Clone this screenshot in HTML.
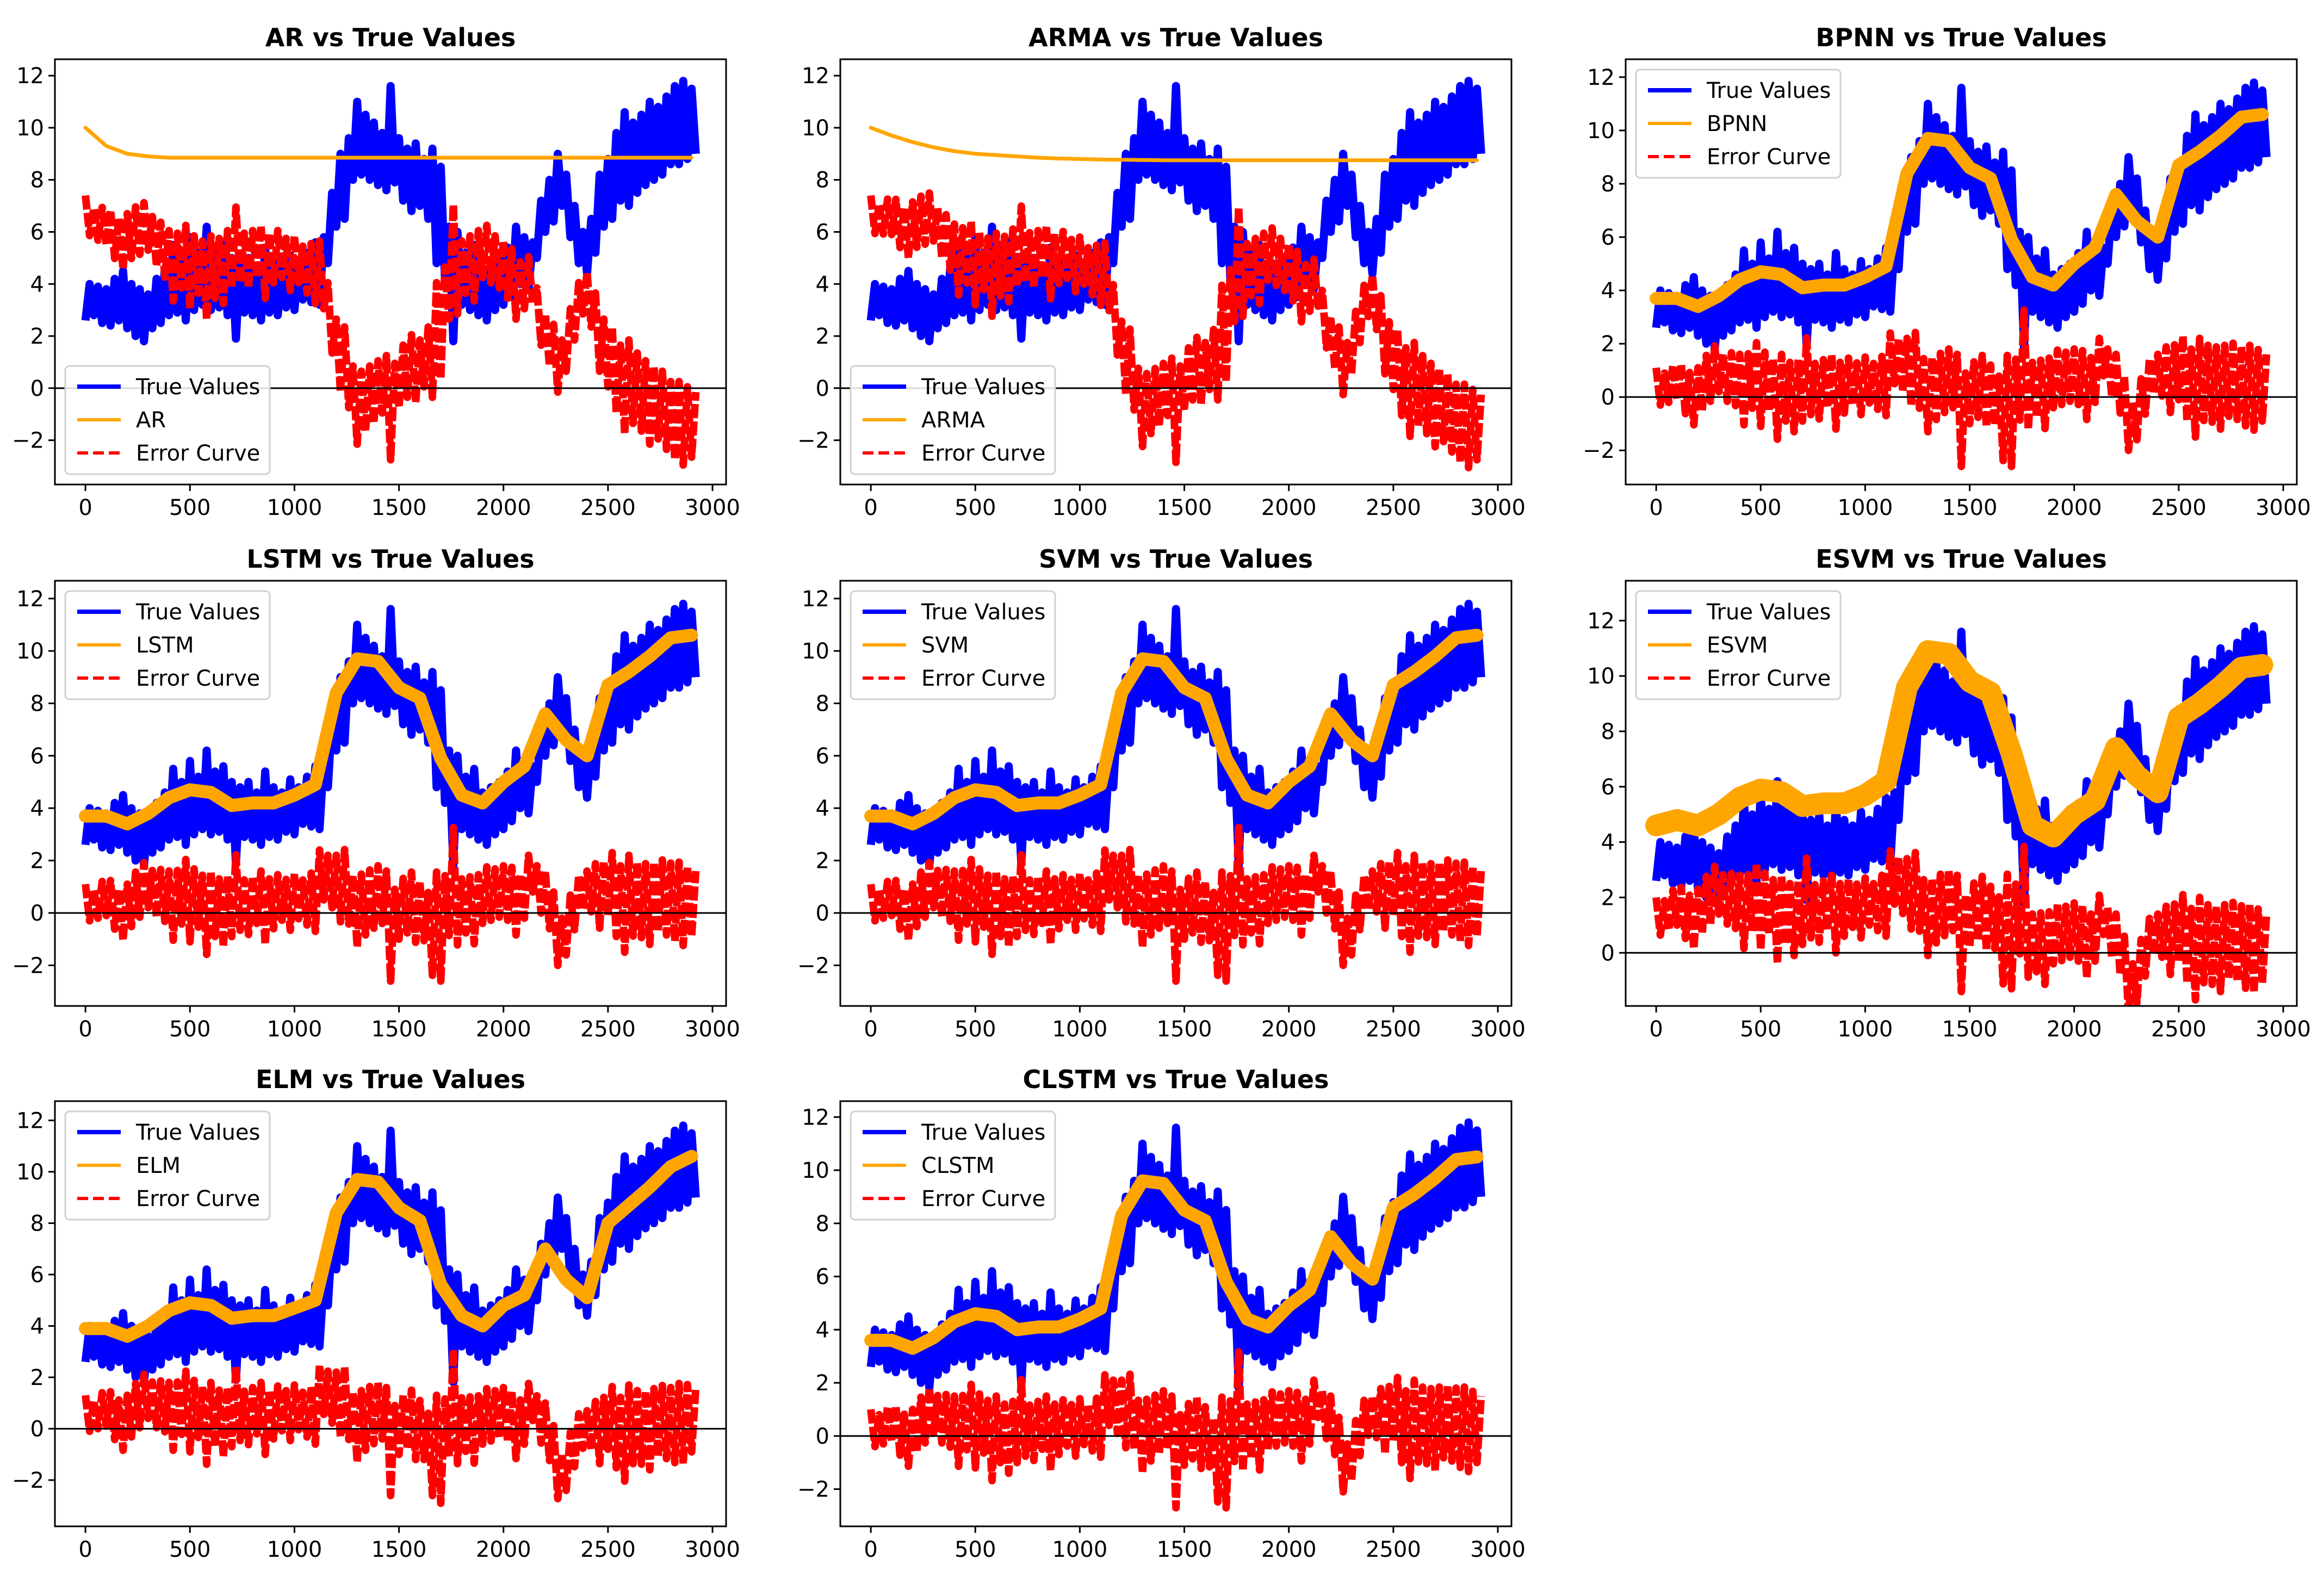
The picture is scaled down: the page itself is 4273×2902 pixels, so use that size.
<!DOCTYPE html>
<html><head><meta charset="utf-8"><style>
html,body{margin:0;padding:0;background:#fff;}
svg{display:block;font-family:"DejaVu Sans","Liberation Sans",sans-serif;}
</style></head><body>
<svg id="fig" width="4273" height="2902" viewBox="0 0 4273 2902" xmlns="http://www.w3.org/2000/svg"></svg>
<script>
// ---- data ----
const trueStep = 20;
const trueVals = [2.6,4.0,2.8,3.9,2.5,3.8,2.4,4.2,2.6,4.5,2.3,4.0,2.0,3.8,1.8,3.6,2.3,4.2,2.5,4.6,2.8,
5.5,2.9,5.0,2.6,5.8,3.0,5.2,3.2,6.2,3.0,5.4,3.1,5.6,2.8,5.0,1.9,4.8,2.9,5.0,2.8,4.6,2.6,5.4,2.9,4.8,
2.8,4.6,3.1,5.1,3.0,4.8,3.4,5.2,3.3,5.6,3.2,5.8,4.8,7.5,6.2,9.0,6.5,9.6,8.0,11.0,8.2,10.5,8.0,10.2,7.8,
9.8,7.6,11.6,7.9,9.6,7.2,9.2,6.8,9.4,7.0,8.8,6.5,9.2,4.8,8.5,4.2,6.2,1.8,6.0,3.2,5.2,3.0,5.5,2.8,4.6,
2.6,4.8,3.0,5.0,3.2,5.4,3.5,6.2,4.0,5.8,3.8,5.6,5.0,7.2,6.0,8.0,6.4,9.0,7.0,8.2,5.8,7.0,4.8,6.0,4.4,
6.5,5.2,8.2,6.2,8.8,6.5,9.8,7.2,10.6,7.0,10.2,7.5,10.5,7.8,11.0,8.0,10.8,8.2,11.2,8.6,11.6,8.6,11.8,8.8,11.5,9.0];
const predStep = 100;
const predAR   = [10.0,9.3,9.0,8.9,8.85,8.85,8.85,8.85,8.85,8.85,8.85,8.85,8.85,8.85,8.85,8.85,8.85,8.85,8.85,8.85,8.85,8.85,8.85,8.85,8.85,8.85,8.85,8.85,8.85,8.85];
const predARMA = [10.0,9.7,9.45,9.25,9.1,9.0,8.95,8.9,8.85,8.82,8.8,8.78,8.77,8.76,8.75,8.75,8.75,8.75,8.75,8.75,8.75,8.75,8.75,8.75,8.75,8.75,8.75,8.75,8.75,8.75];
const predBPNN = [3.7,3.7,3.4,3.8,4.4,4.7,4.6,4.1,4.2,4.2,4.5,4.9,8.4,9.7,9.6,8.6,8.2,5.9,4.5,4.2,5.0,5.6,7.6,6.6,6.0,8.7,9.2,9.8,10.5,10.6];
const predLSTM = [3.7,3.7,3.4,3.8,4.4,4.7,4.6,4.1,4.2,4.2,4.5,4.9,8.4,9.7,9.6,8.6,8.2,5.9,4.5,4.2,5.0,5.6,7.6,6.6,6.0,8.7,9.2,9.8,10.5,10.6];
const predSVM  = [3.7,3.7,3.4,3.8,4.4,4.7,4.6,4.1,4.2,4.2,4.5,4.9,8.4,9.7,9.6,8.6,8.2,5.9,4.5,4.2,5.0,5.6,7.6,6.6,6.0,8.7,9.2,9.8,10.5,10.6];
const predESVM = [4.6,4.8,4.6,5.0,5.6,5.9,5.8,5.3,5.4,5.4,5.7,6.2,9.6,10.9,10.8,9.8,9.4,7.2,4.6,4.2,5.0,5.5,7.4,6.4,5.8,8.5,9.0,9.6,10.3,10.4];
const predELM  = [3.9,3.9,3.6,4.0,4.6,4.9,4.8,4.3,4.4,4.4,4.7,5.0,8.4,9.7,9.6,8.6,8.1,5.6,4.4,4.0,4.8,5.2,7.0,5.8,5.1,8.0,8.7,9.4,10.2,10.6];
const predCLSTM= [3.6,3.6,3.3,3.7,4.3,4.6,4.5,4.0,4.1,4.1,4.4,4.8,8.3,9.6,9.5,8.5,8.1,5.8,4.4,4.1,4.9,5.5,7.5,6.5,5.9,8.6,9.1,9.7,10.4,10.5];
const xTicks = [0,500,1000,1500,2000,2500,3000];
const models = ["AR","ARMA","BPNN","LSTM","SVM","ESVM","ELM","CLSTM"];
const preds = [predAR,predARMA,predBPNN,predLSTM,predSVM,predESVM,predELM,predCLSTM];
const yLims = [[-3.7,12.63],[-3.7,12.63],[-3.28,12.67],[-3.55,12.68],[-3.55,12.68],[-1.92,13.44],[-3.8,12.75],[-3.4,12.6]];
const yTickSets = [[-2,0,2,4,6,8,10,12],[-2,0,2,4,6,8,10,12],[-2,0,2,4,6,8,10,12],[-2,0,2,4,6,8,10,12],[-2,0,2,4,6,8,10,12],[0,2,4,6,8,10,12],[-2,0,2,4,6,8,10,12],[-2,0,2,4,6,8,10,12]];
const legendBottom = [true,true,false,false,false,false,false,false];

// ---- layout ----
const NS="http://www.w3.org/2000/svg";
const svg=document.getElementById('fig');
const colX=[101,1545,2989], rowY=[109,1068,2025], W=1234, H=782;
const xMin=-146, xMax=3065;
function mk(tag,attrs,parent){const e=document.createElementNS(NS,tag);for(const k in attrs)e.setAttribute(k,attrs[k]);(parent||svg).appendChild(e);return e;}
function predAt(p,t){const i=t/predStep;const i0=Math.min(Math.floor(i),p.length-1);const i1=Math.min(i0+1,p.length-1);const f=Math.min(i-i0,1);return p[i0]*(1-f)+p[i1]*f;}

models.forEach((name,m)=>{
  const L=colX[m%3], T=rowY[Math.floor(m/3)];
  const [y0,y1]=yLims[m];
  const sx=v=>L+(v-xMin)/(xMax-xMin)*W;
  const sy=v=>T+H-(v-y0)/(y1-y0)*H;
  const g=mk('g',{});
  
  
  const cp=mk('clipPath',{id:'clip'+m},g);mk('rect',{x:L,y:T,width:W,height:H},cp);
  const plot=mk('g',{'clip-path':'url(#clip'+m+')'},g);
  const tp=trueVals.map((v,i)=>sx(i*trueStep).toFixed(1)+','+sy(v).toFixed(1)).join(' ');
  const tl=mk('polyline',{points:tp,fill:'none',stroke:'#0000ff','stroke-width':15,'stroke-linejoin':'round'},plot);
  
  
  const pp=preds[m].map((v,i)=>sx(i*predStep).toFixed(1)+','+sy(v).toFixed(1)).join(' ');
  const thick=(m<2)?7:(m===5?40:24);
  const pl=mk('polyline',{points:pp,fill:'none',stroke:'#ffa500','stroke-width':thick,'stroke-linejoin':'round','stroke-linecap':'round'},plot);
  
  
  const ep=trueVals.map((v,i)=>{const t=i*trueStep;return sx(t).toFixed(1)+','+sy(predAt(preds[m],t)-v).toFixed(1);}).join(' ');
  const el=mk('polyline',{points:ep,fill:'none',stroke:'#ff0000','stroke-width':14,'stroke-dasharray':'26,6','stroke-linejoin':'round'},plot);
  
  
  const zl=mk('line',{x1:L,x2:L+W,y1:sy(0),y2:sy(0),stroke:'#000','stroke-width':3},plot);
  
  
  const fr=mk('rect',{x:L,y:T,width:W,height:H,fill:'none',stroke:'#000','stroke-width':3},g);
  
  
  xTicks.forEach(t=>{
    mk('line',{x1:sx(t),x2:sx(t),y1:T+H,y2:T+H+12,stroke:'#000','stroke-width':3},g);
    const tx=mk('text',{x:sx(t),y:T+H+56,'font-size':40,'text-anchor':'middle',fill:'#000'},g);
    tx.textContent=t;
    
    
  });
  yTickSets[m].forEach(t=>{
    mk('line',{x1:L-12,x2:L,y1:sy(t),y2:sy(t),stroke:'#000','stroke-width':3},g);
    const ty=mk('text',{x:L-20,y:sy(t)+14,'font-size':40,'text-anchor':'end',fill:'#000'},g);
    ty.textContent=(t<0?'\u2212'+(-t):t);
    
    
  });
  const title=mk('text',{x:L+W/2,y:T-24,'font-size':46,'font-weight':'bold','text-anchor':'middle',fill:'#000'},g);
  title.textContent=name+' vs True Values';
  
  
  // legend
  const lw=376, lh=199, lx=L+19, ly=legendBottom[m]?T+H-19-lh:T+19;
  const lg=mk('g',{},g);
  
  
  mk('rect',{x:lx,y:ly,width:lw,height:lh,rx:8,fill:'#fff','fill-opacity':0.85,stroke:'#d0d0d0','stroke-width':3},lg);
  const items=[['True Values','#0000ff',null,8],[name,'#ffa500',null,6],['Error Curve','#ff0000','20,9',6]];
  items.forEach((it,i)=>{
    const yy=ly+38+i*61;
    const a={x1:lx+22,x2:lx+102,y1:yy,y2:yy,stroke:it[1],'stroke-width':it[3]};
    if(it[2])a['stroke-dasharray']=it[2];
    mk('line',a,lg);
    const lt=mk('text',{x:lx+130,y:yy+14,'font-size':40,fill:'#000'},lg);
    lt.textContent=it[0];
    
    
  });
});
</script>
</body></html>
